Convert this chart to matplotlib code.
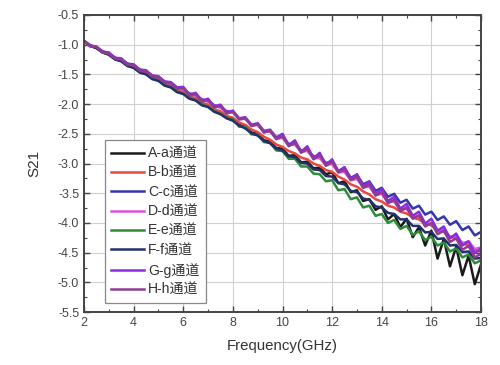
import numpy as np
import matplotlib
matplotlib.use("Agg")
import matplotlib.pyplot as plt
from matplotlib.ticker import MultipleLocator

plt.rcParams['font.family'] = ['Liberation Sans', 'Noto Sans CJK SC']
plt.rcParams['axes.unicode_minus'] = False

freq = [2 + 0.25 * i for i in range(65)]

labels = ["A-a通道", "B-b通道", "C-c通道", "D-d通道", "E-e通道", "F-f通道", "G-g通道", "H-h通道"]
colors = ["#1a1a1a", "#e8483f", "#3535b0", "#e050e0", "#2e8b3a", "#25306a", "#8a2be2", "#8e3d8e"]

s21_A = [-0.94, -1.02, -1.05, -1.13, -1.16, -1.24, -1.27, -1.35, -1.38, -1.45, -1.49, -1.56, -1.59, -1.67, -1.70, -1.78,
         -1.80, -1.90, -1.91, -2.01, -2.02, -2.12, -2.14, -2.23, -2.25, -2.35, -2.38, -2.48, -2.50, -2.61, -2.63, -2.74,
         -2.75, -2.87, -2.86, -2.98, -2.97, -3.08, -3.07, -3.18, -3.15, -3.33, -3.30, -3.48, -3.45, -3.63, -3.60, -3.78,
         -3.72, -3.94, -3.85, -4.07, -3.93, -4.24, -4.07, -4.38, -4.13, -4.60, -4.27, -4.73, -4.40, -4.88, -4.55, -5.03,
         -4.70]
s21_B = [-0.94, -1.01, -1.05, -1.12, -1.16, -1.23, -1.26, -1.34, -1.37, -1.44, -1.48, -1.55, -1.58, -1.65, -1.69, -1.76,
         -1.79, -1.87, -1.90, -1.98, -2.01, -2.09, -2.12, -2.20, -2.23, -2.31, -2.35, -2.43, -2.47, -2.55, -2.60, -2.68,
         -2.72, -2.79, -2.83, -2.90, -2.93, -3.00, -3.04, -3.11, -3.14, -3.22, -3.27, -3.35, -3.39, -3.47, -3.52, -3.60,
         -3.64, -3.71, -3.74, -3.81, -3.84, -3.91, -3.94, -4.01, -4.04, -4.12, -4.15, -4.23, -4.26, -4.34, -4.38, -4.45,
         -4.49]
s21_C = [-0.94, -1.01, -1.04, -1.11, -1.15, -1.22, -1.25, -1.32, -1.35, -1.42, -1.45, -1.52, -1.55, -1.62, -1.65, -1.72,
         -1.75, -1.82, -1.85, -1.92, -1.95, -2.02, -2.05, -2.12, -2.13, -2.24, -2.24, -2.35, -2.34, -2.46, -2.45, -2.57,
         -2.56, -2.67, -2.67, -2.78, -2.77, -2.88, -2.88, -2.99, -2.97, -3.13, -3.08, -3.24, -3.19, -3.35, -3.30, -3.46,
         -3.41, -3.56, -3.51, -3.66, -3.61, -3.76, -3.71, -3.86, -3.81, -3.95, -3.89, -4.03, -3.97, -4.12, -4.06, -4.21,
         -4.15]
s21_D = [-0.94, -1.01, -1.05, -1.12, -1.15, -1.22, -1.26, -1.33, -1.36, -1.43, -1.46, -1.53, -1.56, -1.63, -1.66, -1.73,
         -1.76, -1.83, -1.86, -1.93, -1.96, -2.03, -2.06, -2.13, -2.14, -2.25, -2.25, -2.36, -2.35, -2.47, -2.46, -2.58,
         -2.57, -2.69, -2.68, -2.80, -2.79, -2.91, -2.91, -3.02, -3.01, -3.15, -3.14, -3.28, -3.26, -3.40, -3.39, -3.53,
         -3.51, -3.65, -3.64, -3.78, -3.76, -3.90, -3.89, -4.03, -4.01, -4.14, -4.11, -4.24, -4.21, -4.34, -4.31, -4.44,
         -4.41]
s21_E = [-0.94, -1.02, -1.05, -1.13, -1.16, -1.24, -1.27, -1.35, -1.38, -1.46, -1.49, -1.57, -1.60, -1.68, -1.71, -1.79,
         -1.82, -1.90, -1.93, -2.01, -2.04, -2.12, -2.16, -2.23, -2.25, -2.38, -2.38, -2.51, -2.51, -2.64, -2.65, -2.78,
         -2.79, -2.92, -2.92, -3.05, -3.05, -3.17, -3.18, -3.30, -3.28, -3.45, -3.43, -3.60, -3.57, -3.74, -3.71, -3.88,
         -3.85, -4.00, -3.95, -4.10, -4.05, -4.20, -4.14, -4.29, -4.23, -4.38, -4.33, -4.48, -4.43, -4.58, -4.53, -4.68,
         -4.63]
s21_F = [-0.94, -1.02, -1.06, -1.13, -1.17, -1.25, -1.28, -1.36, -1.39, -1.47, -1.50, -1.58, -1.61, -1.69, -1.72, -1.80,
         -1.83, -1.91, -1.94, -2.02, -2.05, -2.13, -2.17, -2.24, -2.28, -2.36, -2.41, -2.49, -2.53, -2.62, -2.66, -2.75,
         -2.78, -2.88, -2.89, -2.99, -3.00, -3.10, -3.11, -3.21, -3.22, -3.33, -3.35, -3.46, -3.48, -3.59, -3.61, -3.72,
         -3.74, -3.83, -3.85, -3.94, -3.94, -4.05, -4.05, -4.16, -4.15, -4.27, -4.26, -4.38, -4.37, -4.49, -4.48, -4.60,
         -4.59]
s21_G = [-0.93, -1.02, -1.03, -1.12, -1.13, -1.22, -1.23, -1.32, -1.33, -1.42, -1.43, -1.52, -1.53, -1.62, -1.63, -1.72,
         -1.71, -1.84, -1.81, -1.94, -1.91, -2.04, -2.01, -2.14, -2.11, -2.24, -2.22, -2.35, -2.32, -2.45, -2.43, -2.56,
         -2.50, -2.69, -2.61, -2.80, -2.71, -2.91, -2.82, -3.02, -2.93, -3.13, -3.06, -3.26, -3.18, -3.38, -3.31, -3.51,
         -3.43, -3.63, -3.56, -3.76, -3.68, -3.88, -3.81, -4.01, -3.93, -4.13, -4.06, -4.26, -4.18, -4.38, -4.31, -4.51,
         -4.43]
s21_H = [-0.94, -1.03, -1.04, -1.13, -1.15, -1.24, -1.25, -1.34, -1.35, -1.44, -1.45, -1.54, -1.55, -1.64, -1.65, -1.74,
         -1.73, -1.86, -1.83, -1.96, -1.93, -2.06, -2.03, -2.16, -2.13, -2.26, -2.24, -2.37, -2.34, -2.48, -2.45, -2.59,
         -2.54, -2.71, -2.65, -2.82, -2.75, -2.93, -2.86, -3.04, -2.97, -3.15, -3.10, -3.28, -3.22, -3.41, -3.35, -3.54,
         -3.48, -3.67, -3.61, -3.80, -3.74, -3.93, -3.87, -4.06, -4.00, -4.19, -4.13, -4.32, -4.26, -4.45, -4.39, -4.58,
         -4.52]

series = [s21_A, s21_B, s21_C, s21_D, s21_E, s21_F, s21_G, s21_H]

fig = plt.figure(figsize=(5.0, 3.65), dpi=100)
ax = fig.add_axes([0.168, 0.145, 0.794, 0.814])

for lab, col, ys in zip(labels, colors, series):
    ax.plot(freq, ys, color=col, lw=1.8, label=lab)

ax.set_xlim(2, 18)
ax.set_ylim(-5.5, -0.5)
ax.xaxis.set_major_locator(MultipleLocator(2))
ax.xaxis.set_minor_locator(MultipleLocator(1))
ax.yaxis.set_major_locator(MultipleLocator(0.5))
ax.yaxis.set_minor_locator(MultipleLocator(0.25))
ax.grid(True, which='major', color='#d0d0d0', lw=0.8)
ax.tick_params(which='both', direction='in', top=True, right=True, colors='#444444',
               labelcolor='#444444', labelsize=9)
ax.tick_params(which='major', length=4, width=1)
ax.tick_params(which='minor', length=2, width=0.8)
for sp in ax.spines.values():
    sp.set_color('#444444')
    sp.set_linewidth(1.4)

ax.set_xlabel("Frequency(GHz)", fontsize=10.8, color='#333333', labelpad=7)
ax.set_ylabel("S21", fontsize=11, color='#333333', labelpad=12)

leg = ax.legend(loc='lower left', bbox_to_anchor=(0.053, 0.03), borderaxespad=0, fontsize=10.1,
                handlelength=2.3, labelspacing=0.38, borderpad=0.45, handletextpad=0.3,
                fancybox=False, framealpha=1)
leg.get_frame().set_edgecolor('#888888')
leg.get_frame().set_linewidth(0.9)
for t in leg.get_texts():
    t.set_color('#333333')

fig.savefig("out.png", dpi=100)
